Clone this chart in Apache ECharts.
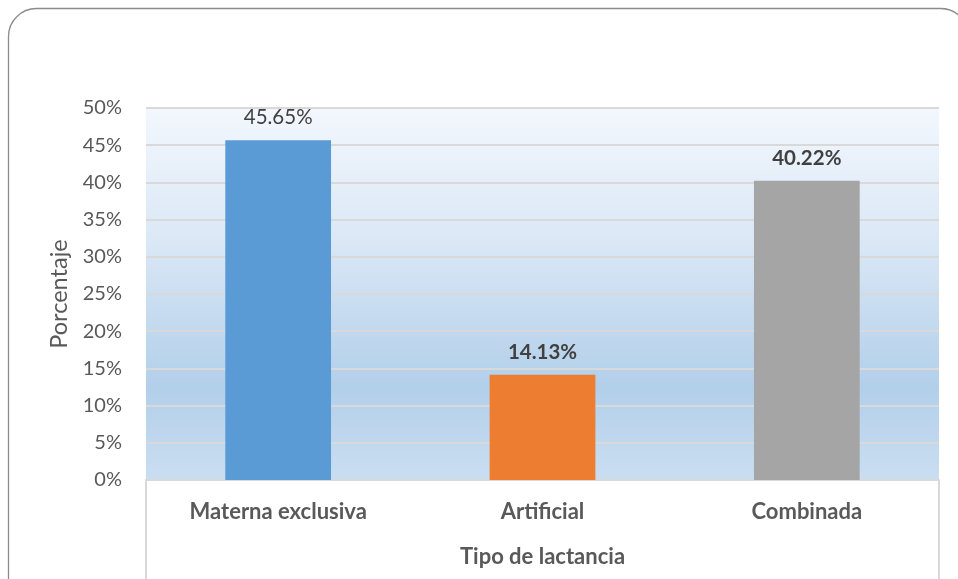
<!DOCTYPE html>
<html><head><meta charset="utf-8">
<script src="https://cdn.jsdelivr.net/npm/echarts@6/dist/echarts.min.js"></script>
<style>html,body{margin:0;padding:0;background:#fff}#c{width:958px;height:579px}</style>
</head><body><div id="c"></div>
<script>
const categories = ['Materna exclusiva', 'Artificial', 'Combinada'];
const values = [45.65, 14.13, 40.22];
const yTicks = [0, 5, 10, 15, 20, 25, 30, 35, 40, 45, 50];

const barColors = ['#5b9bd5', '#ed7d31', '#a5a5a5'];
const FONT = 'Lato, "Open Sans", sans-serif';
const chart = echarts.init(document.getElementById('c'));
chart.setOption({
  animation: false,
  textStyle: { fontFamily: FONT },
  graphic: [
    { type: 'rect', shape: { x: 8.5, y: 8.5, width: 960, height: 600, r: 28 },
      style: { fill: 'none', stroke: '#8c8c8c', lineWidth: 1.3 }, z: -10 },
    { type: 'line', shape: { x1: 146, y1: 480, x2: 146, y2: 579 },
      style: { stroke: '#d9d9d9', lineWidth: 2 } },
    { type: 'line', shape: { x1: 939, y1: 480, x2: 939, y2: 579 },
      style: { stroke: '#d9d9d9', lineWidth: 2 } }
  ],
  grid: {
    left: 146, right: 19, top: 108, bottom: 99, show: true, borderWidth: 0,
    backgroundColor: new echarts.graphic.LinearGradient(0, 0, 0, 1, [
      { offset: 0, color: '#f3f7fd' },
      { offset: 0.35, color: '#dbe8f6' },
      { offset: 0.75, color: '#b2cfea' },
      { offset: 1, color: '#cadef1' }
    ])
  },
  xAxis: {
    type: 'category', data: categories,
    name: 'Tipo de lactancia', nameLocation: 'middle', nameGap: 66,
    nameTextStyle: { fontSize: 22, fontWeight: 'bold', color: '#595959', fontFamily: FONT },
    axisLine: { lineStyle: { color: '#d9d9d9', width: 2 } },
    axisTick: { show: false },
    axisLabel: { fontSize: 22, fontWeight: 'bold', color: '#595959', margin: 21, fontFamily: FONT }
  },
  yAxis: {
    type: 'value', min: yTicks[0], max: yTicks[yTicks.length - 1], interval: 5,
    name: 'Porcentaje', nameLocation: 'middle', nameGap: 73, nameRotate: 90,
    nameTextStyle: { fontSize: 23.5, color: '#595959', fontFamily: FONT },
    axisLine: { show: false }, axisTick: { show: false },
    axisLabel: { fontSize: 20, color: '#595959', margin: 24, formatter: '{value}%', fontFamily: FONT },
    splitLine: { lineStyle: { color: '#d9d9d9', width: 2 } }
  },
  series: [{
    type: 'bar', barWidth: '40%',
    data: values.map((v, i) => ({
      value: v,
      itemStyle: { color: barColors[i] },
      label: { fontWeight: i === 0 ? 'normal' : 'bold' }
    })),
    label: {
      show: true, position: 'top', distance: 12, fontSize: 20.5, color: '#404040', fontFamily: FONT,
      formatter: p => p.value.toFixed(2) + '%'
    }
  }]
});
</script></body></html>
